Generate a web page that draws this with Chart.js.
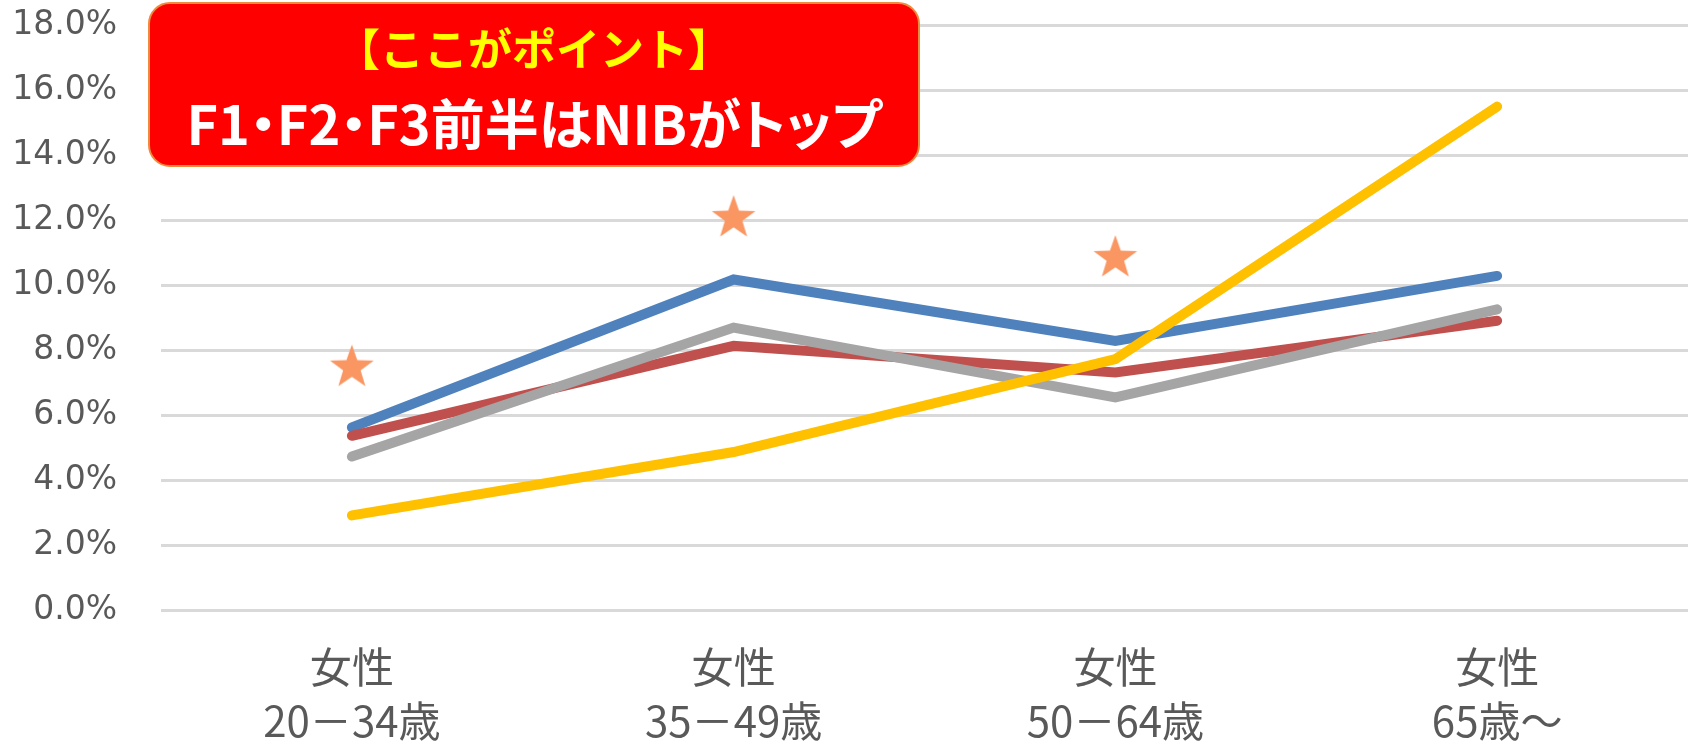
<!DOCTYPE html>
<html lang="ja">
<head>
<meta charset="utf-8">
<script src="https://cdn.jsdelivr.net/npm/chart.js@4/dist/chart.umd.min.js"></script>
<style>
  html, body { margin: 0; padding: 0; background: #fff; }
  #wrap { position: relative; width: 1700px; height: 748px; }
  #point {
    position: absolute; left: 148px; top: 2px; width: 768px; height: 161px;
    background: #ff0000; border: 2px solid #f08a3c; border-radius: 22px;
    font-family: "Noto Sans CJK JP", sans-serif; font-weight: bold; text-align: center;
  }
  #point .l1 { position: absolute; left: 0; right: 0; top: 18px; font-size: 44px; line-height: 50px; color: #ffff00; }
  #point .l2 { position: absolute; left: 0; right: 0; top: 88px; font-size: 54px; line-height: 60px; color: #ffffff; font-feature-settings: "palt"; }
</style>
</head>
<body>
<div id="wrap">
  <canvas id="chart" width="1700" height="748"></canvas>
  <div id="point">
    <div class="l1">【ここがポイント】</div>
    <div class="l2">F1・F2・F3前半はNIBがトップ</div>
  </div>
</div>
<script>
const categories = [
    ['女性', '20－34歳'],
    ['女性', '35－49歳'],
    ['女性', '50－64歳'],
    ['女性', '65歳～']
];
const blueSeries = [5.62, 10.17, 8.28, 10.28];
const redSeries = [5.36, 8.13, 7.31, 8.90];
const graySeries = [4.72, 8.69, 6.54, 9.25];
const yellowSeries = [2.91, 4.86, 7.72, 15.49];
const starMarks = [7.52, 12.12, 10.89, null];
const yTicks = [0, 2, 4, 6, 8, 10, 12, 14, 16, 18];

// filled star used as point style
const star = document.createElement('canvas');
star.width = 50;
star.height = 50;
const sctx = star.getContext('2d');
sctx.fillStyle = '#f99662';
sctx.beginPath();
for (let i = 0; i < 10; i++) {
    const r = i % 2 === 0 ? 23 : 9.2;
    const a = -Math.PI / 2 + i * Math.PI / 5;
    const px = 25 + r * Math.cos(a);
    const py = 27 + r * Math.sin(a);
    if (i === 0) sctx.moveTo(px, py); else sctx.lineTo(px, py);
}
sctx.closePath();
sctx.fill();

const line = (data, color, order) => ({
    data: data,
    borderColor: color,
    backgroundColor: color,
    borderWidth: 10,
    borderCapStyle: 'round',
    pointRadius: 0,
    tension: 0,
    order: order
});

const ctx = document.getElementById('chart').getContext('2d');
new Chart(ctx, {
    type: 'line',
    data: {
        labels: categories,
        datasets: [
            line(blueSeries, '#4f81bd', 4),
            line(redSeries, '#c0504d', 3),
            line(graySeries, '#a5a5a5', 2),
            line(yellowSeries, '#ffc000', 1),
            {
                data: starMarks,
                showLine: false,
                pointStyle: star,
                pointRadius: 20,
                order: 0
            }
        ]
    },
    options: {
        responsive: false,
        animation: false,
        devicePixelRatio: 1,
        layout: { autoPadding: false, padding: { top: 25, right: 12, left: 0, bottom: 0 } },
        plugins: {
            legend: { display: false },
            tooltip: { enabled: false }
        },
        scales: {
            x: {
                offset: true,
                grid: { display: false, drawTicks: false },
                border: { display: false },
                ticks: {
                    color: '#595959',
                    padding: 30,
                    maxRotation: 0,
                    font: { family: '"Noto Sans CJK JP", sans-serif', size: 42, lineHeight: 1.29 }
                },
                afterFit: (scale) => { scale.height = 138; }
            },
            y: {
                min: 0,
                max: 18,
                afterBuildTicks: (scale) => { scale.ticks = yTicks.map(v => ({ value: v })); },
                grid: { color: '#d9d9d9', lineWidth: 3, drawTicks: false },
                border: { display: false },
                ticks: {
                    color: '#595959',
                    padding: 44,
                    font: { family: '"DejaVu Sans", sans-serif', size: 33 },
                    callback: (v) => v.toFixed(1) + '%'
                },
                afterFit: (scale) => {
                    scale.width = 161;
                    scale.paddingTop = 0;
                    scale.paddingBottom = 0;
                }
            }
        }
    }
});
</script>
</body>
</html>
